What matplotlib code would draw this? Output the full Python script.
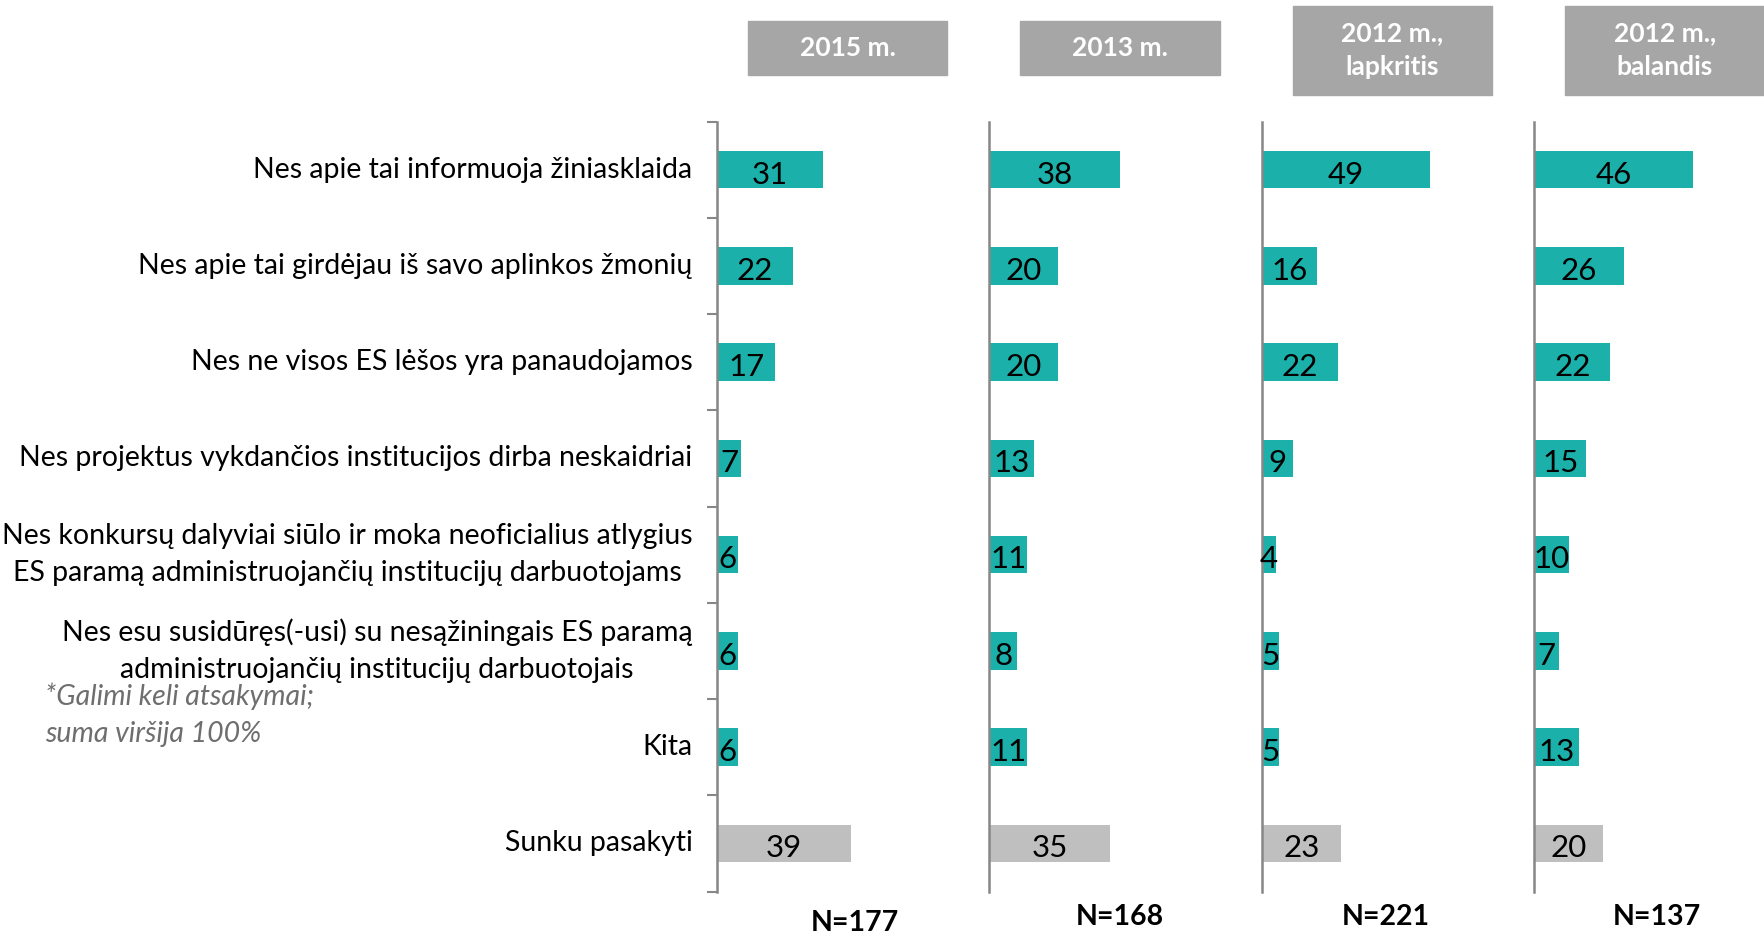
import matplotlib
matplotlib.use("Agg")
import matplotlib.pyplot as plt
from matplotlib.patches import Rectangle

plt.rcParams['font.family'] = ['Lato', 'DejaVu Sans']

categories = [
    "Nes apie tai informuoja žiniasklaida",
    "Nes apie tai girdėjau iš savo aplinkos žmonių",
    "Nes ne visos ES lėšos yra panaudojamos",
    "Nes projektus vykdančios institucijos dirba neskaidriai",
    "Nes konkursų dalyviai siūlo ir moka neoficialius atlygius\nES paramą administruojančių institucijų darbuotojams",
    "Nes esu susidūręs(-usi) su nesąžiningais ES paramą\nadministruojančių institucijų darbuotojais",
    "Kita",
    "Sunku pasakyti",
]
periods = ["2015 m.", "2013 m.", "2012 m.,\nlapkritis", "2012 m.,\nbalandis"]
sample_sizes = ["N=177", "N=168", "N=221", "N=137"]

v2015 = [31, 22, 17, 7, 6, 6, 6, 39]
v2013 = [38, 20, 20, 13, 11, 8, 11, 35]
v2012_nov = [49, 16, 22, 9, 4, 5, 5, 23]
v2012_apr = [46, 26, 22, 15, 10, 7, 13, 20]
series = [v2015, v2013, v2012_nov, v2012_apr]

TEAL = "#1BB0AA"
LIGHT = "#BFBFBF"
HEADER = "#A6A6A6"
AXIS = "#878787"

W, H = 1765, 935
fig = plt.figure(figsize=(W / 100, H / 100), dpi=100)

ax_left0 = 717
panel_w = 272.5
ax_top, ax_bot = 121.6, 891.5
px_per_unit = 3.435
xmax = panel_w / px_per_unit

n_rows = len(categories)
rows = list(range(n_rows))
n_offsets = [138, 130, 124, 122]
n_y = [923, 917, 917, 917]

for i, (vals, period, nlab) in enumerate(zip(series, periods, sample_sizes)):
    left = ax_left0 + i * panel_w
    ax = fig.add_axes([left / W, 1 - ax_bot / H, panel_w / W, (ax_bot - ax_top) / H])
    colors = [TEAL] * (n_rows - 1) + [LIGHT]
    ax.barh(rows, vals, height=0.39, color=colors)
    for r, v in zip(rows, vals):
        ax.text(v / 2, r + 0.05, str(v), ha='center', va='center',
                fontsize=22.5, color='black')
    ax.set_xlim(0, xmax)
    ax.set_ylim(n_rows - 0.5, -0.5)
    for s in ['top', 'right', 'bottom']:
        ax.spines[s].set_visible(False)
    ax.spines['left'].set_color(AXIS)
    ax.spines['left'].set_linewidth(1.8)
    ax.set_xticks([])
    if i == 0:
        ax.set_yticks([r - 0.5 for r in range(n_rows + 1)])
        ax.set_yticklabels([])
        ax.tick_params(axis='y', direction='out', length=7, width=1.5, color=AXIS)
        for r, cat in zip(rows, categories):
            ax.text(-0.09 * xmax, r, cat, ha='right', va='center',
                    multialignment='center', fontsize=20.5, linespacing=1.55)
    else:
        ax.set_yticks([])

    # header box
    tall = "\n" in period
    bx = left + 31
    by0, by1 = (5.6, 94.6) if tall else (21.4, 75.4)
    fig.patches.append(Rectangle((bx / W, 1 - by1 / H), 199 / W, (by1 - by0) / H,
                                 transform=fig.transFigure, color=HEADER, zorder=0))
    fig.text((bx + 99.5) / W, 1 - (by0 + by1) / 2 / H, period, ha='center', va='center',
             color='white', fontsize=19, fontweight='bold', linespacing=1.45)

    fig.text((left + n_offsets[i]) / W, 1 - n_y[i] / H, nlab, ha='center', va='center',
             fontsize=20.5, fontweight='bold', color='black')

fig.text(45 / W, 1 - 696 / H, "*Galimi keli atsakymai;", ha='left', va='center',
         fontsize=20.5, style='italic', color='#6E6E6E')
fig.text(45 / W, 1 - 734 / H, "suma viršija 100%", ha='left', va='center',
         fontsize=20.5, style='italic', color='#6E6E6E')

fig.savefig("out.png", dpi=100, facecolor='white')
